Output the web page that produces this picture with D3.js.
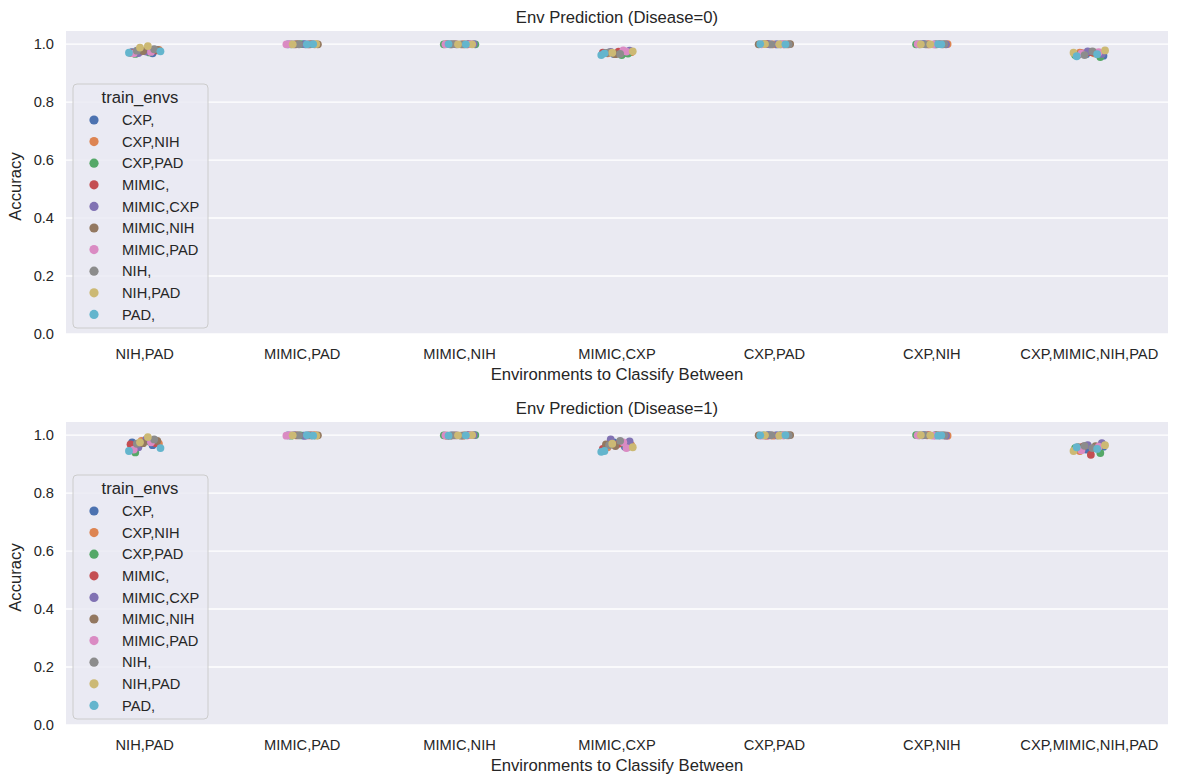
<!DOCTYPE html>
<html lang="en">
<head>
  <meta charset="UTF-8">
  <title>Env Prediction</title>
  <style>
    body { margin: 0; background: #fff; }
    svg { font-family: "Liberation Sans", Arial, sans-serif; }
    .grid line { stroke: #fff; stroke-width: 1.3; }
  </style>
</head>
<body>
  <div class="warp"></div>
  <script src="https://cdn.jsdelivr.net/npm/d3@7"></script>
  <script>
    // categories on the x axis
    var envPairs = ['NIH,PAD', 'MIMIC,PAD', 'MIMIC,NIH', 'MIMIC,CXP', 'CXP,PAD', 'CXP,NIH', 'CXP,MIMIC,NIH,PAD'];
    // hue levels
    var trainEnvs = ['CXP,', 'CXP,NIH', 'CXP,PAD', 'MIMIC,', 'MIMIC,CXP', 'MIMIC,NIH', 'MIMIC,PAD', 'NIH,', 'NIH,PAD', 'PAD,'];
    var palette = ['#4C72B0', '#DD8452', '#55A868', '#C44E52', '#8172B3', '#937860', '#DA8BC3', '#8C8C8C', '#CCB974', '#64B5CD'];
    var yTicks = [0, 0.2, 0.4, 0.6, 0.8, 1.0];

    // accuracy per env pair, two runs per train env (in trainEnvs order)
    var disease0 = [
      [0.972, 0.968, 0.975, 0.980, 0.966, 0.971, 0.978, 0.970, 0.974, 0.969, 0.980, 0.976, 0.968, 0.973, 0.982, 0.977, 0.993, 0.988, 0.975, 0.970],
      [0.999, 1.000, 0.999, 0.999, 1.000, 0.999, 0.999, 1.000, 0.999, 0.999, 1.000, 0.999, 0.999, 1.000, 0.999, 0.999, 1.000, 0.999, 0.999, 1.000],
      [1.000, 0.999, 0.999, 1.000, 0.999, 0.999, 1.000, 0.999, 0.999, 1.000, 0.999, 0.999, 1.000, 0.999, 0.999, 1.000, 0.999, 0.999, 1.000, 0.999],
      [0.970, 0.966, 0.972, 0.968, 0.962, 0.967, 0.970, 0.974, 0.973, 0.977, 0.965, 0.969, 0.978, 0.974, 0.971, 0.966, 0.970, 0.975, 0.962, 0.968],
      [0.999, 1.000, 0.999, 0.999, 1.000, 0.999, 0.999, 1.000, 0.999, 0.999, 1.000, 0.999, 0.999, 1.000, 0.999, 0.999, 1.000, 0.999, 0.999, 1.000],
      [1.000, 0.999, 0.999, 1.000, 0.999, 0.999, 1.000, 0.999, 0.999, 1.000, 0.999, 0.999, 1.000, 0.999, 0.999, 1.000, 0.999, 0.999, 1.000, 0.999],
      [0.965, 0.960, 0.970, 0.968, 0.955, 0.962, 0.972, 0.968, 0.966, 0.975, 0.963, 0.970, 0.972, 0.967, 0.975, 0.962, 0.978, 0.970, 0.958, 0.965]
    ];
    var disease1 = [
      [0.975, 0.965, 0.980, 0.970, 0.940, 0.978, 0.972, 0.968, 0.985, 0.958, 0.980, 0.972, 0.950, 0.975, 0.985, 0.970, 0.993, 0.975, 0.955, 0.945],
      [0.999, 0.998, 0.999, 1.000, 0.999, 0.998, 0.999, 0.999, 1.000, 0.998, 0.999, 0.999, 0.998, 1.000, 0.999, 0.999, 0.998, 0.999, 1.000, 0.998],
      [1.000, 0.999, 0.998, 0.999, 1.000, 0.999, 0.998, 0.999, 0.999, 1.000, 0.998, 0.999, 1.000, 0.999, 0.998, 0.999, 1.000, 0.999, 0.998, 0.999],
      [0.960, 0.975, 0.965, 0.958, 0.972, 0.960, 0.952, 0.970, 0.985, 0.978, 0.962, 0.968, 0.975, 0.955, 0.965, 0.980, 0.970, 0.958, 0.942, 0.945],
      [0.999, 1.000, 0.999, 0.998, 0.999, 1.000, 0.999, 0.998, 0.999, 0.999, 1.000, 0.999, 0.998, 0.999, 1.000, 0.999, 0.999, 0.998, 1.000, 0.999],
      [1.000, 0.999, 0.999, 0.998, 1.000, 0.999, 0.999, 1.000, 0.998, 0.999, 1.000, 0.999, 0.999, 0.998, 1.000, 0.999, 0.999, 1.000, 0.998, 0.999],
      [0.950, 0.960, 0.945, 0.955, 0.938, 0.955, 0.932, 0.960, 0.972, 0.965, 0.958, 0.962, 0.960, 0.948, 0.955, 0.963, 0.965, 0.945, 0.958, 0.952]
    ];
    // fixed strip jitter (fraction of a category step)
    var jitter = [-0.08, 0.05, -0.02, 0.09, -0.06, 0.03, 0.07, -0.09, 0.01, -0.04, 0.08, -0.01, -0.07, 0.04, 0.06, -0.05, 0.02, -0.03, 0.1, -0.1];

    var W = 1178, H = 784;
    var svg = d3.select('.warp').append('svg').attr('width', W).attr('height', H);

    function drawPanel(top, title, rows) {
      var left = 66, right = 1168, plotH = 303;
      var g = svg.append('g').attr('transform', 'translate(0,' + top + ')');
      var x = d3.scaleBand().domain(envPairs).range([left, right]);
      var y = d3.scaleLinear().domain([0, 1.045]).range([plotH, 0]);

      g.append('rect').attr('x', left).attr('y', 0).attr('width', right - left).attr('height', plotH).attr('fill', '#EAEAF2');

      g.append('g').attr('class', 'grid')
        .selectAll('line').data(yTicks).enter().append('line')
        .attr('x1', left).attr('x2', right)
        .attr('y1', d => y(d)).attr('y2', d => y(d));

      // y tick labels
      g.selectAll('text.ytick').data(yTicks).enter().append('text')
        .attr('class', 'ytick')
        .attr('x', 54).attr('y', d => y(d)).attr('dy', '0.35em')
        .attr('text-anchor', 'end').style('font-size', '14.67px').attr('fill', '#262626')
        .text(d => d3.format('.1f')(d));

      // x tick labels
      g.selectAll('text.xtick').data(envPairs).enter().append('text')
        .attr('class', 'xtick')
        .attr('x', d => x(d) + x.bandwidth() / 2).attr('y', plotH + 25)
        .attr('text-anchor', 'middle').style('font-size', '14.67px').attr('fill', '#262626')
        .text(d => d);

      g.append('text').attr('x', (left + right) / 2).attr('y', plotH + 46)
        .attr('text-anchor', 'middle').style('font-size', '16.67px').attr('fill', '#262626')
        .text('Environments to Classify Between');

      g.append('text').attr('transform', 'translate(21,' + (plotH / 2 + 4) + ') rotate(-90)')
        .attr('text-anchor', 'middle').style('font-size', '16.67px').attr('fill', '#262626')
        .text('Accuracy');

      g.append('text').attr('x', (left + right) / 2).attr('y', -8)
        .attr('text-anchor', 'middle').style('font-size', '16.67px').attr('fill', '#262626')
        .text(title);

      // points, hue by hue so later envs sit on top
      var pts = [];
      trainEnvs.forEach(function (env, h) {
        envPairs.forEach(function (pair, c) {
          for (var r = 0; r < 2; r++) {
            var i = h * 2 + r;
            pts.push({ pair: pair, v: rows[c][i], h: h, j: jitter[(i + c * 7) % jitter.length] });
          }
        });
      });
      g.append('g').selectAll('circle').data(pts).enter().append('circle')
        .attr('cx', d => x(d.pair) + x.bandwidth() / 2 + d.j * x.step())
        .attr('cy', d => y(d.v))
        .attr('r', 3.9)
        .attr('fill', d => palette[d.h]);

      // legend
      var lg = g.append('g').attr('transform', 'translate(73,53)');
      lg.append('rect').attr('x', 0).attr('y', 0).attr('width', 135).attr('height', 244)
        .attr('rx', 4).attr('fill', '#EAEAF2').attr('fill-opacity', 0.8)
        .attr('stroke', '#cccccc').attr('stroke-width', 1);
      lg.append('text').attr('x', 67).attr('y', 19).attr('text-anchor', 'middle')
        .style('font-size', '16.67px').attr('fill', '#262626').text('train_envs');
      var items = lg.selectAll('g.item').data(trainEnvs).enter().append('g')
        .attr('class', 'item')
        .attr('transform', (d, i) => 'translate(0,' + (36 + i * 21.6) + ')');
      items.append('circle').attr('cx', 21).attr('cy', 0).attr('r', 4.6).attr('fill', (d, i) => palette[i]);
      items.append('text').attr('x', 49).attr('y', 0).attr('dy', '0.35em')
        .style('font-size', '14.67px').attr('fill', '#262626').text(d => d);
    }

    drawPanel(31, 'Env Prediction (Disease=0)', disease0);
    drawPanel(422, 'Env Prediction (Disease=1)', disease1);
  </script>
</body>
</html>
